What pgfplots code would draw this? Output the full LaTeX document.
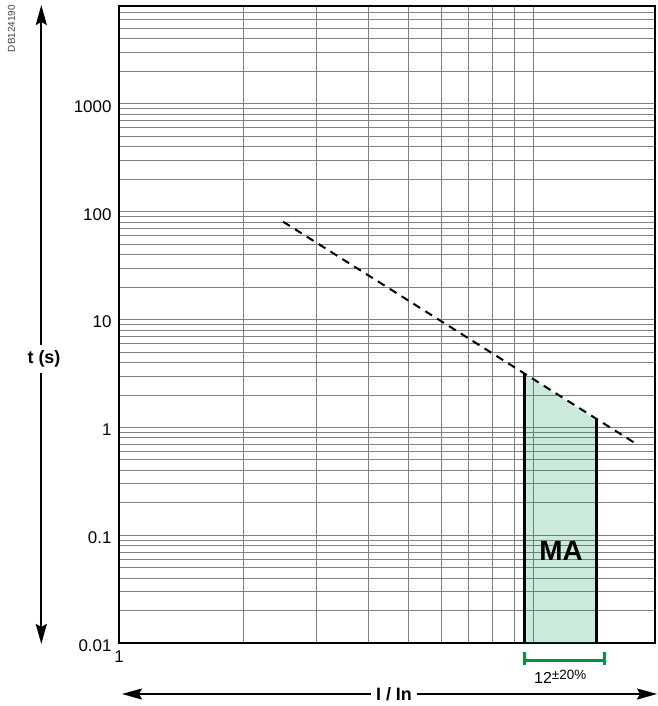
\documentclass[border=0pt]{standalone}
\usepackage{pgfplots}
\pgfplotsset{compat=1.18}
\usetikzlibrary{arrows.meta}
\usepackage{fontspec}
\setmainfont{Liberation Sans}
\definecolor{magreen}{RGB}{0,150,70}
\definecolor{bracketgreen}{RGB}{0,150,64}

\begin{document}
\begin{tikzpicture}[x=1bp,y=1bp]
  \path[use as bounding box] (0,0) rectangle (658,706);
  \begin{axis}[
    at={(119bp,62.7bp)}, anchor=south west,
    scale only axis,
    width=536bp, height=637.3bp,
    xmode=log, ymode=log,
    xmin=1, xmax=19.7,
    ymin=0.01, ymax=8070,
    xtick={1,10}, xticklabels={1,{}},
    minor xtick={2,3,4,5,6,7,8,9},
    ytick={0.01,0.1,1,10,100,1000},
    yticklabels={0.01,0.1,1,10,100,1000},
    minor ytick={0.02,0.03,0.04,0.05,0.06,0.07,0.08,0.09,
                 0.2,0.3,0.4,0.5,0.6,0.7,0.8,0.9,
                 2,3,4,5,6,7,8,9,
                 20,30,40,50,60,70,80,90,
                 200,300,400,500,600,700,800,900,
                 2000,3000,4000,5000,6000,7000,8000},
    grid=both,
    major grid style={black!50, line width=1bp},
    minor grid style={black!50, line width=1bp},
    major tick length=0pt, minor tick length=0pt,
    axis line style={line width=2bp},
    tick label style={font=\fontsize{17}{17}\selectfont},
    /pgf/number format/assume math mode=true,
    xticklabel style={yshift=-4bp},
    yticklabel style={xshift=-4bp, yshift=-2.5bp},
    clip=false,
  ]
  % --- MA tripping zone ---
  \addplot[draw=none, fill=magreen, fill opacity=0.2] coordinates {
    (9.51,0.01) (9.51,3.11) (14.2,1.19) (14.2,0.01)
  } -- cycle;
  % --- I2t curve ---
  \addplot[black, line width=2bp, dash pattern=on 8bp off 6bp] coordinates {
    (2.49,80.8) (17.8,0.70)
  };
  % --- MA limits ---
  \addplot[black, line width=3bp] coordinates {(9.51,0.01) (9.51,3.11)};
  \addplot[black, line width=3bp] coordinates {(14.2,0.01) (14.2,1.19)};
  \node[font=\bfseries\fontsize{28}{28}\selectfont, inner sep=0pt]
    at (axis cs:11.68,0.0717) {MA};
  \end{axis}

  % reference code
  \node[rotate=90, font=\fontsize{10}{10}\selectfont, text=black!75, inner sep=0pt]
    at (11.5,677.5) {DB124190};

  % axis arrows
  \draw[line width=2bp, {Stealth[length=20bp,width=11bp,inset=3bp]}-{Stealth[length=20bp,width=11bp,inset=3bp]}]
    (41.3,701) -- (41.3,62);
  \node[fill=white, font=\bfseries\fontsize{18}{18}\selectfont, inner xsep=2bp, inner ysep=5.5bp]
    at (44,347) {t (s)};
  \draw[line width=2bp, {Stealth[length=20bp,width=11bp,inset=3bp]}-{Stealth[length=20bp,width=11bp,inset=3bp]}]
    (122,12) -- (657,12);
  \node[fill=white, font=\bfseries\fontsize{18}{18}\selectfont, inner xsep=5.5bp, inner ysep=2bp]
    at (394,12) {I / In};

  % tolerance bracket
  \draw[bracketgreen, line width=3bp] (524,54.3) -- (524,40.7)
    (524,45) -- (604,45) (604,54.3) -- (604,40.7);
  \node[anchor=base west, inner sep=0pt, font=\fontsize{16}{16}\selectfont]
    at (534,22) {12\raisebox{4bp}{\fontsize{13.5}{13.5}\selectfont ±20\%}};
\end{tikzpicture}
\end{document}
